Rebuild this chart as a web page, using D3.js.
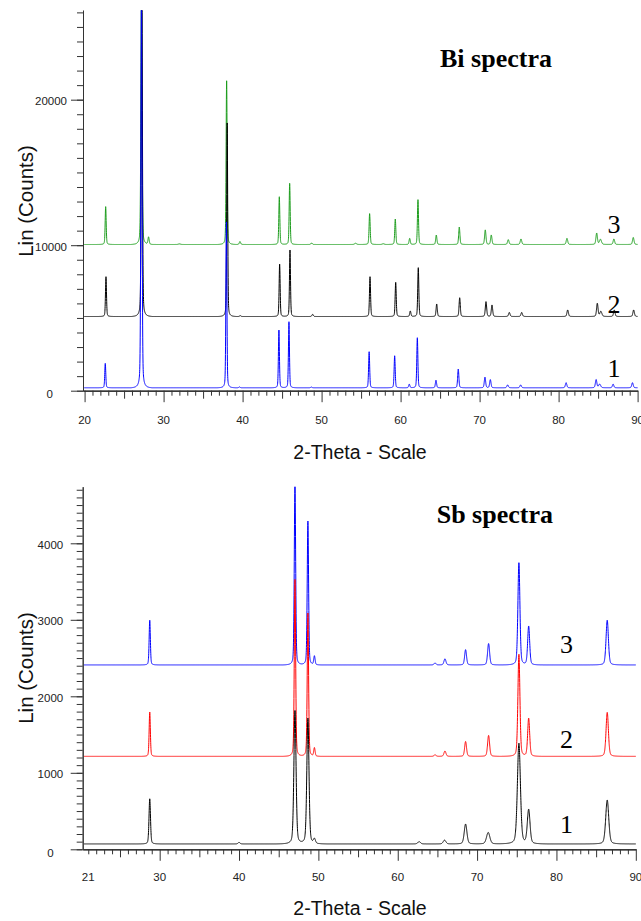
<!DOCTYPE html>
<html><head><meta charset="utf-8">
<script src="https://cdn.jsdelivr.net/npm/d3@7"></script>
<style>body{margin:0;background:#fff}svg{display:block}</style>
</head><body><svg id="c" width="641" height="921"></svg>
<script>
// ================= DATA =================
// Bi spectra: peaks as [2-theta, height above baseline (counts), FWHM (deg)]
const biSeriesNames = ["1", "2", "3"];
const biColors = ["#0000ff", "#000000", "#1c9c1c"];
const biBaselines = [200, 5100, 10050];
const biPeaks1 = [[22.62,1680,0.15],[27.2,28000,0.17],[37.95,11400,0.15],[39.6,60,0.2],[44.6,3970,0.15],[45.87,4540,0.15],[48.7,50,0.2],[56.02,2480,0.16],[59.25,2200,0.16],[61.1,250,0.18],[62.12,3440,0.16],[64.48,520,0.18],[67.3,1290,0.18],[70.68,730,0.2],[71.36,560,0.2],[73.55,200,0.22],[75.2,200,0.22],[80.95,350,0.22],[84.75,560,0.22],[85.2,250,0.3],[86.9,250,0.22],[89.35,350,0.22]];
const biPeaks2 = [[22.71,2735,0.15],[27.25,23000,0.17],[38.05,13300,0.15],[39.7,60,0.2],[44.69,3600,0.15],[46.0,4570,0.15],[48.87,150,0.2],[56.13,2735,0.16],[59.38,2350,0.16],[61.23,380,0.18],[62.24,3355,0.16],[64.57,860,0.18],[67.48,1290,0.18],[70.81,1020,0.2],[71.57,790,0.2],[73.76,280,0.22],[75.33,280,0.22],[81.15,450,0.22],[84.9,900,0.22],[85.35,350,0.3],[87.05,450,0.22],[89.5,450,0.22]];
const biPeaks3 = [[22.67,2600,0.15],[27.2,18000,0.17],[28.1,500,0.18],[32.0,40,0.3],[37.98,11250,0.15],[39.67,200,0.2],[44.65,3280,0.15],[45.96,4200,0.15],[48.74,100,0.2],[54.3,80,0.3],[56.08,2120,0.16],[57.8,50,0.3],[59.33,1750,0.16],[61.15,420,0.18],[62.2,3080,0.16],[64.52,650,0.18],[67.43,1200,0.18],[70.72,1000,0.2],[71.48,650,0.2],[73.63,330,0.22],[75.24,380,0.22],[81.06,420,0.22],[84.82,780,0.22],[85.3,350,0.3],[87.0,380,0.22],[89.45,480,0.22]];
const biYTicks = [0, 10000, 20000];
const biXTicks = [20, 30, 40, 50, 60, 70, 80, 90];

// Sb spectra
const sbSeriesNames = ["1", "2", "3"];
const sbColors = ["#000000", "#ff0000", "#0000ff"];
const sbBaselines = [70, 1215, 2410];
const sbPeaks1 = [[28.75,590,0.22],[40.0,20,0.3],[47.05,1742,0.32],[48.68,1642,0.32],[49.5,60,0.3],[62.7,30,0.4],[65.9,50,0.4],[68.55,260,0.4],[71.4,150,0.5],[75.27,1315,0.45],[76.5,444,0.4],[86.4,574,0.45]];
const sbPeaks2 = [[28.75,580,0.18],[47.05,2313,0.2],[48.68,1873,0.2],[49.5,110,0.2],[64.7,20,0.3],[65.95,70,0.3],[68.55,195,0.28],[71.45,274,0.3],[75.27,1333,0.3],[76.5,496,0.3],[86.4,575,0.35]];
const sbPeaks3 = [[28.75,585,0.18],[47.05,2400,0.2],[48.68,1880,0.2],[49.5,115,0.2],[64.7,25,0.3],[65.95,80,0.3],[68.55,200,0.28],[71.45,280,0.3],[75.27,1335,0.3],[76.5,505,0.3],[86.4,585,0.35]];
const sbYTicks = [0, 1000, 2000, 3000, 4000];
const sbXTicks = [21, 30, 40, 50, 60, 70, 80, 90];

// ================= DRAWING =================
const svg = d3.select("#c");
svg.append("rect").attr("width", 641).attr("height", 921).attr("fill", "#fff");

// peak glyph (pseudo-Voigt shape) used to render each listed peak
function peakShape(t) {
  const a = Math.abs(t);
  if (a > 8) return 0;
  const taper = 1 - (a / 8) * (a / 8);
  return (0.3 / (1 + 4 * t * t) + 0.7 * Math.exp(-2.7726 * t * t)) * taper;
}
function profile(peaks, base, x0, x1, step) {
  const pts = [];
  const n = Math.round((x1 - x0) / step);
  for (let i = 0; i <= n; i++) {
    const x = x0 + i * step;
    let y = base;
    for (const [p, h, w] of peaks) y += h * peakShape((x - p) / w);
    pts.push([x, y]);
  }
  return pts;
}

function drawChart(cfg) {
  const g = svg.append("g");
  const x = d3.scaleLinear().domain(cfg.xDomain).range(cfg.xRange);
  const y = d3.scaleLinear().domain(cfg.yDomain).range(cfg.yRange);
  const axisColor = "#333";

  const clipId = "clip" + cfg.id;
  svg.append("clipPath").attr("id", clipId).append("rect")
    .attr("x", cfg.xRange[0]).attr("y", cfg.yRange[1])
    .attr("width", cfg.xRange[1] - cfg.xRange[0] + 2)
    .attr("height", cfg.yRange[0] - cfg.yRange[1]);

  // series (drawn top series first)
  const line = d3.line().x(d => x(d[0])).y(d => y(d[1]));
  const lg = g.append("g").attr("clip-path", `url(#${clipId})`);
  for (let i = cfg.peaks.length - 1; i >= 0; i--) {
    const pts = profile(cfg.peaks[i], cfg.baselines[i], cfg.xDomain[0] + 0.15, cfg.xDomain[1], 0.01);
    lg.append("path").datum(pts).attr("d", line)
      .attr("fill", "none").attr("stroke", cfg.colors[i]).attr("stroke-width", 1)
      .attr("stroke-linejoin", "round");
  }

  // y axis
  const yMinor = d3.range(0, cfg.yDomain[1] + 1, cfg.yMinorStep);
  const ay1 = g.append("g").attr("transform", `translate(${cfg.xRange[0]},0)`)
    .call(d3.axisLeft(y).tickValues(yMinor).tickSize(6).tickSizeOuter(0).tickFormat(""));
  const ay2 = g.append("g").attr("transform", `translate(${cfg.xRange[0]},0)`)
    .call(d3.axisLeft(y).tickValues(cfg.yTicks).tickSize(12).tickSizeOuter(0).tickFormat(d3.format("d")));
  [ay1, ay2].forEach(a => {
    a.selectAll("path,line").attr("stroke", axisColor).attr("stroke-width", 1);
  });
  ay2.selectAll("text")
    .attr("font-family", "'Liberation Sans', Arial, sans-serif").attr("font-size", "11.5px")
    .attr("fill", "#222").attr("x", cfg.yLabelDx).attr("dy", "0.42em")
    .filter(d => d === 0).attr("x", cfg.yZeroDx).attr("dy", "0.6em");

  // x axis
  const xAll = d3.range(Math.ceil(cfg.xDomain[0]), cfg.xDomain[1] + 0.01, 1);
  const xMinor = xAll.filter(v => v % 5 !== 0);
  const xMid = xAll.filter(v => v % 5 === 0 && v % 10 !== 0);
  const xMajor = xAll.filter(v => v % 10 === 0);
  const y0 = y(0);
  const mk = (vals, size) => g.append("g").attr("transform", `translate(0,${y0})`)
    .call(d3.axisBottom(x).tickValues(vals).tickSize(size).tickSizeOuter(0).tickFormat(""));
  [mk(xMinor, 5), mk(xMid, 8), mk(xMajor, 11.5)].forEach(a => {
    a.selectAll("path,line").attr("stroke", axisColor).attr("stroke-width", 1);
  });
  g.append("g").selectAll("text").data(cfg.xTicks).join("text")
    .attr("x", d => x(d)).attr("y", y0 + cfg.xLabelDy)
    .attr("text-anchor", "middle").attr("dominant-baseline", "central")
    .attr("font-family", "'Liberation Sans', Arial, sans-serif").attr("font-size", "11.5px")
    .attr("fill", "#222").text(d => d);

  // axis titles
  g.append("text").attr("x", 360).attr("y", cfg.xTitleY)
    .attr("text-anchor", "middle").attr("dominant-baseline", "central")
    .attr("font-family", "'Liberation Sans', Arial, sans-serif").attr("font-size", "19.5px")
    .attr("fill", "#111").text("2-Theta - Scale");
  g.append("text").attr("transform", `translate(25,${cfg.yTitleY}) rotate(-90)`)
    .attr("text-anchor", "middle").attr("dominant-baseline", "central")
    .attr("font-family", "'Liberation Sans', Arial, sans-serif").attr("font-size", "20.5px")
    .attr("fill", "#111").text("Lin (Counts)");

  // chart title
  g.append("text").attr("x", cfg.titleX).attr("y", cfg.titleY)
    .attr("font-family", "'Liberation Serif', 'Times New Roman', serif").attr("font-weight", "bold")
    .attr("font-size", "26px").attr("fill", "#000").text(cfg.title);

  // series number labels
  g.append("g").selectAll("text").data(cfg.names).join("text")
    .attr("x", cfg.numX).attr("y", (d, i) => cfg.numY[i])
    .attr("text-anchor", "middle")
    .attr("font-family", "'Liberation Serif', 'Times New Roman', serif")
    .attr("font-size", "26px").attr("fill", "#000").text(d => d);
}

drawChart({
  id: "bi", title: "Bi spectra", titleX: 440, titleY: 66.5,
  xDomain: [19.8, 90], xRange: [83, 637.6],
  yDomain: [0, 26150], yRange: [390.7, 10.2], yMinorStep: 1000,
  yTicks: biYTicks, xTicks: biXTicks,
  yLabelDx: -16, yZeroDx: -30, xLabelDy: 29,
  xTitleY: 452, yTitleY: 201,
  peaks: [biPeaks1, biPeaks2, biPeaks3], baselines: biBaselines,
  colors: biColors, names: biSeriesNames,
  numX: 614, numY: [377, 313, 233]
});

drawChart({
  id: "sb", title: "Sb spectra", titleX: 436.7, titleY: 523,
  xDomain: [20.3, 90], xRange: [82.7, 635.8],
  yDomain: [0, 4740], yRange: [849.3, 486.7], yMinorStep: 100,
  yTicks: sbYTicks, xTicks: sbXTicks,
  yLabelDx: -19.5, yZeroDx: -29, xLabelDy: 28,
  xTitleY: 908, yTitleY: 668,
  peaks: [sbPeaks1, sbPeaks2, sbPeaks3], baselines: sbBaselines,
  colors: sbColors, names: sbSeriesNames,
  numX: 566.5, numY: [833, 748, 653]
});
</script></body></html>
